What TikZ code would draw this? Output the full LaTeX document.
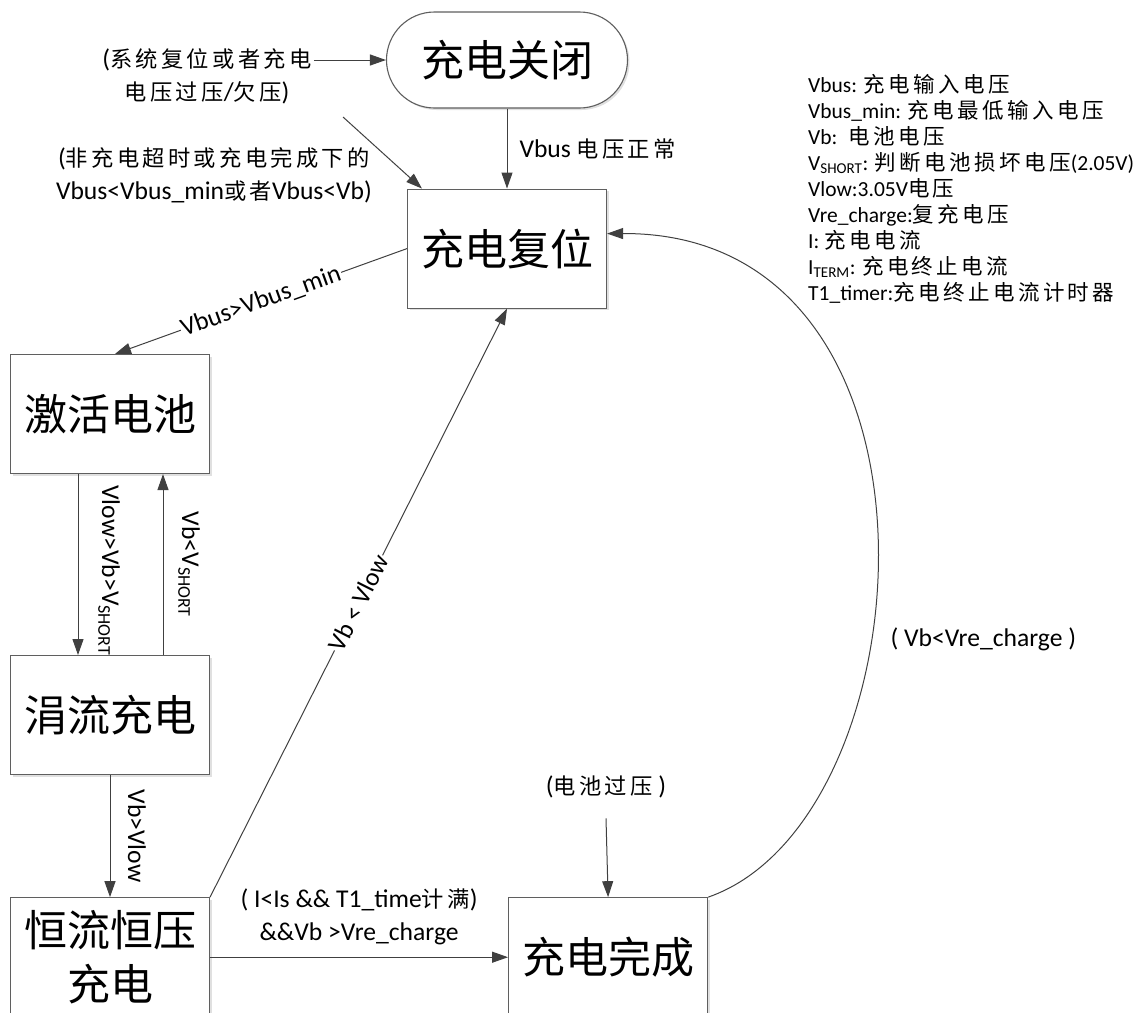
\documentclass[tikz,border=0pt]{standalone}
\usepackage{fontspec}
\setmainfont{Carlito}
\newfontfamily\zhlabel[Scale=0.87,LetterSpace=15]{Noto Sans CJK SC}
\newfontfamily\zhlegend[LetterSpace=16]{Noto Sans CJK SC}
\newfontfamily\zhbig{Noto Sans CJK SC}
\let\zhcur\zhlabel
\newcommand{\zh}[1]{{\zhcur #1}}
\usetikzlibrary{positioning}
\usetikzlibrary{arrows.meta}
\usetikzlibrary{shadows}
\definecolor{linegray}{HTML}{404040}
\definecolor{boxgray}{HTML}{5F5F5F}
\tikzset{
	stateblock/.style={
		rectangle,
		draw=boxgray,
		line width=1.1pt,
		fill=white,
		minimum width=199pt,
		minimum height=119pt,
		inner sep=0pt,
		align=center,
		font=\fontsize{43}{54}\selectfont\zhbig,
		drop shadow={shadow xshift=2pt, shadow yshift=-2pt, fill=black, opacity=0.12}
	},
	cond/.style={font=\fontsize{25.6}{33}\selectfont, inner sep=2pt, align=center},
	vlabel/.style={cond, rotate=-90, anchor=base, inner sep=0pt},
	notes/.style={font=\fontsize{21.5}{26}\selectfont\let\zhcur\zhlegend, align=left, inner sep=0pt, anchor=north west},
	trans/.style={draw=linegray, line width=1pt, ->},
	>={Triangle[length=16pt,width=11pt]}
}
\begin{document}
\begin{tikzpicture}[x=1pt, y=-1pt]
	\useasboundingbox (0,0) rectangle (1140,1012);
	% states
	\node[stateblock, rounded corners=48pt, minimum width=241pt, minimum height=96pt] (Off) at (507,60) {充电关闭};
	\node[stateblock, below=80pt of Off] (Reset) {充电复位};
	\node[stateblock] (Act) at (110,414) {激活电池};
	\node[stateblock, below=181pt of Act] (Trickle) {涓流充电};
	\node[stateblock, below=122pt of Trickle] (CC) {恒流恒压\\充电};
	\node[stateblock, right=298pt of CC] (Done) {充电完成};
	
	% free conditions and notes
	\node[cond] (SysIn) at (207,76) {(\zh{系统复位或者充电}\\\zh{电压过压}/\zh{欠压})};
	\node[cond] (ErrCond) at (214,175) {(\zh{非充电超时或充电完成下的}\\Vbus<Vbus\_min\zh{或者}Vbus<Vb)};
	\coordinate (ErrIn) at (343,117);
	\node[cond] (OverV) at (606,787) {(\zh{电池过压} )};
	\node[notes] (Legend) at (808,74) {Vbus: \zh{充电输入电压}\\
		Vbus\_min: \zh{充电最低输入电压}\\
		Vb: \ \zh{电池电压}\\
		V\textsubscript{SHORT}: \zh{判断电池损坏电压}(2.05V)\\
		Vlow:3.05V\zh{电压}\\
		Vre\_charge:\zh{复充电压}\\
		I: \zh{充电电流}\\
		I\textsubscript{TERM}: \zh{充电终止电流}\\
		T1\_timer:\zh{充电终止电流计时器}};
	
	% transitions
	\draw[trans] (SysIn.east |- Off.west) -- (Off.west);
	\draw[trans] (ErrIn) -- ([xshift=15pt]Reset.north west);
	\draw[trans] (Off) -- (Reset) node[cond, midway, right=10pt] {Vbus \zh{电压正常}};
	\draw[trans] (Reset.west) -- ([xshift=5pt]Act.north) node[cond, midway, sloped, fill=white, inner sep=1pt] {Vbus>Vbus\_min};
	\draw[trans] ([xshift=-32pt]Act.south) -- ([xshift=-32pt]Trickle.north) node[midway, xshift=24pt, yshift=-6pt, vlabel] {Vlow>Vb>V\textsubscript{SHORT}};
	\draw[trans] ([xshift=53pt]Trickle.north) -- ([xshift=53pt]Act.south) node[midway, xshift=19pt, vlabel] {Vb<V\textsubscript{SHORT}};
	\draw[trans] (Trickle) -- (CC) node[midway, xshift=18pt, vlabel] {Vb>Vlow};
	\draw[trans] (CC.north east) -- (Reset.south) node[cond, midway, sloped, fill=white, inner sep=1pt] {Vb < Vlow};
	\draw[trans] (CC) -- (Done) node[cond, midway, above=10pt] {( I<Is \&\& T1\_time\zh{计满})\\\&\&Vb >Vre\_charge};
	\draw[trans] ([yshift=-18pt]OverV.south) -- (Done.north);
	\draw[trans] (Done.north east) .. controls (930,820) and (968,232) .. ([yshift=15pt]Reset.east) node[cond, pos=0.39, right=17pt] {( Vb<Vre\_charge )};
\end{tikzpicture}
\end{document}
